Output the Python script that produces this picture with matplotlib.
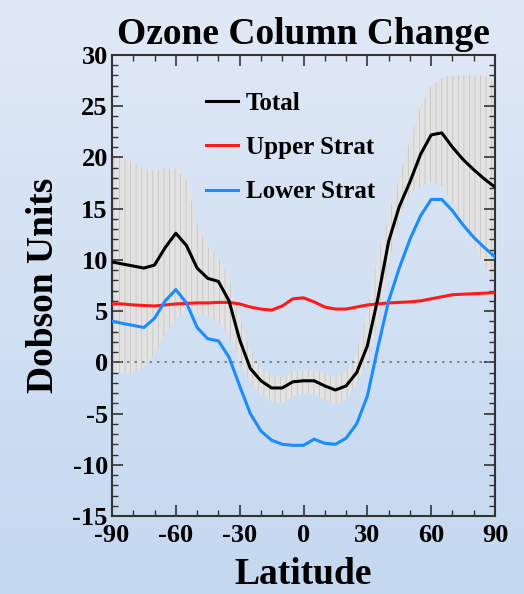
import numpy as np
import matplotlib
matplotlib.use("Agg")
import matplotlib.pyplot as plt
from matplotlib.ticker import MultipleLocator

# Latitude grid (every 5 degrees)
lat = [-90, -85, -80, -75, -70, -65, -60, -55, -50, -45, -40, -35, -30, -25,
       -20, -15, -10, -5, 0, 5, 10, 15, 20, 25, 30, 35, 40, 45, 50, 55, 60,
       65, 70, 75, 80, 85, 90]

total = [9.8, 9.6, 9.4, 9.2, 9.5, 11.2, 12.6, 11.4, 9.2, 8.2, 7.9, 6.0, 2.2,
         -0.6, -1.8, -2.5, -2.5, -1.9, -1.8, -1.8, -2.3, -2.7, -2.3, -1.0,
         1.6, 6.3, 11.8, 15.2, 17.6, 20.3, 22.2, 22.4, 21.0, 19.8, 18.8,
         17.9, 17.1]

upper_strat = [5.7, 5.7, 5.6, 5.55, 5.5, 5.6, 5.7, 5.75, 5.8, 5.8, 5.85, 5.85,
               5.7, 5.4, 5.2, 5.1, 5.5, 6.2, 6.3, 5.9, 5.4, 5.2, 5.2, 5.4,
               5.6, 5.7, 5.8, 5.85, 5.9, 6.0, 6.2, 6.4, 6.6, 6.65, 6.7, 6.75,
               6.8]

lower_strat = [4.0, 3.8, 3.6, 3.4, 4.3, 6.0, 7.1, 5.8, 3.4, 2.3, 2.1, 0.5, -2.3,
               -5.0, -6.7, -7.6, -8.0, -8.1, -8.1, -7.5, -7.9, -8.0, -7.4, -6.0,
               -3.3, 1.5, 6.0, 9.2, 12.0, 14.3, 15.9, 15.9, 14.8, 13.4, 12.2,
               11.2, 10.3]

band_hi = [20.4, 20.0, 19.5, 18.9, 18.7, 18.9, 18.9, 17.8, 13.5, 11.3, 10.2,
           8.3, 4.5, 1.2, -0.6, -1.2, -1.5, -0.9, -0.8, -0.8, -1.1, -1.4, -0.9,
           1.0, 5.0, 10.5, 14.5, 18.0, 21.7, 25.0, 27.0, 27.8, 28.0, 28.0,
           28.0, 28.0, 27.3]

band_lo = [-1.1, -1.1, -1.0, -0.5, 0.8, 2.8, 4.3, 4.9, 4.8, 4.5, 4.0, 2.5, 0.0,
           -2.0, -3.1, -3.8, -4.0, -3.3, -3.1, -3.1, -3.6, -4.2, -3.6, -2.2,
           0.0, 4.0, 9.5, 14.0, 16.5, 17.2, 17.6, 17.2, 15.5, 13.5, 11.3, 9.5,
           7.4]

plt.rcParams['font.family'] = ['Liberation Serif', 'DejaVu Serif']
plt.rcParams['font.weight'] = 'bold'
plt.rcParams['axes.unicode_minus'] = False
plt.rcParams['hatch.linewidth'] = 0.6

fig = plt.figure(figsize=(5.24, 5.94), dpi=100)

# Background gradient
bg = fig.add_axes([0, 0, 1, 1], zorder=-1)
top = np.array([224, 233, 246]) / 255
bot = np.array([196, 216, 240]) / 255
t = np.linspace(0, 1, 256)[:, None]
grad = (top * (1 - t) + bot * t)[:, None, :]
bg.imshow(grad, aspect='auto', extent=[0, 1, 0, 1])
bg.axis('off')

ax = fig.add_axes([0.2137, 0.1313, 0.7310, 0.7761])
ax.patch.set_alpha(0)

ax.fill_between(lat, band_lo, band_hi, facecolor='#e2e2e2',
                edgecolor='#c6c6c6', hatch='|||', linewidth=0, zorder=1)
ax.axhline(0, color='#777777', linestyle=(0, (1.5, 3)), linewidth=1.2, zorder=2)

ax.plot(lat, total, color='black', linewidth=2.2, label='Total', zorder=4,
        solid_joinstyle='round')
ax.plot(lat, upper_strat, color='#ff1a1a', linewidth=2.2, label='Upper Strat',
        zorder=3, solid_joinstyle='round')
ax.plot(lat, lower_strat, color='#1a8cff', linewidth=2.2, label='Lower Strat',
        zorder=3, solid_joinstyle='round')

ax.set_xlim(-90, 90)
ax.set_ylim(-15, 30)
ax.xaxis.set_major_locator(MultipleLocator(30))
ax.xaxis.set_minor_locator(MultipleLocator(10))
ax.yaxis.set_major_locator(MultipleLocator(5))
ax.yaxis.set_minor_locator(MultipleLocator(1))
ax.tick_params(which='both', direction='in', top=True, right=True,
               color='#333333', labelsize=19)
ax.tick_params(axis='x', which='major', pad=6)
ax.tick_params(axis='y', which='major', pad=3)
ax.tick_params(which='major', length=8, width=1.2)
ax.tick_params(which='minor', length=4, width=1.0)
for s in ax.spines.values():
    s.set_linewidth(1.5)
    s.set_color('#333333')

ax.set_title('Ozone Column Change', fontsize=27, fontweight='bold', pad=8)
ax.set_xlabel('Latitude', fontsize=27, fontweight='bold', labelpad=7)
ax.set_ylabel('Dobson Units', fontsize=27, fontweight='bold', labelpad=8)

ax.legend(loc='upper left', bbox_to_anchor=(0.245, 0.92), frameon=False,
          fontsize=18, handlelength=1.3, handletextpad=0.3, labelspacing=0.85,
          borderpad=0, borderaxespad=0)

fig.savefig('out.png', dpi=100)
